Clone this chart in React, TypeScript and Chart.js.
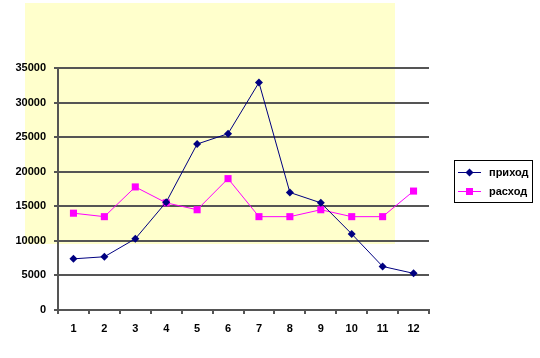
import React, { useEffect, useRef } from "react";
import { Chart, registerables } from "chart.js";

Chart.register(...registerables);

const categories = ["1", "2", "3", "4", "5", "6", "7", "8", "9", "10", "11", "12"];
const prihod = [7400, 7700, 10300, 15600, 24000, 25500, 32900, 17000, 15500, 11000, 6300, 5300];
const rashod = [14000, 13500, 17800, 15500, 14500, 19000, 13500, 13500, 14500, 13500, 13500, 17200];
const seriesNames = ["приход", "расход"];
const yTicks = { min: 0, max: 35000, step: 5000 };

const FONT = "'Liberation Sans', Arial, sans-serif";

const bgPlugin = {
  id: "bgRect",
  beforeDraw(chart: any) {
    const { ctx, chartArea } = chart;
    ctx.save();
    ctx.fillStyle = "#FFFFCC";
    const l = chartArea.left - 33;
    const t = chartArea.top - 65;
    const r = chartArea.left + 337;
    const b = chartArea.top + 176;
    ctx.fillRect(l, t, r - l, b - t);
    ctx.restore();
  },
};

const legendPlugin = {
  id: "boxLegend",
  afterDraw(chart: any) {
    const { ctx } = chart;
    const x = 454, y = 160, w = 78, h = 42;
    ctx.save();
    ctx.fillStyle = "#ffffff";
    ctx.fillRect(x, y, w, h);
    ctx.strokeStyle = "#000000";
    ctx.lineWidth = 1;
    ctx.strokeRect(x + 0.5, y + 0.5, w, h);
    chart.data.datasets.forEach((ds: any, i: number) => {
      const cy = y + 12 + i * 19;
      ctx.strokeStyle = ds.borderColor;
      ctx.lineWidth = 1;
      ctx.beginPath();
      ctx.moveTo(x + 4, cy + 0.5);
      ctx.lineTo(x + 27, cy + 0.5);
      ctx.stroke();
      ctx.fillStyle = ds.backgroundColor;
      if (ds.pointStyle === "rectRot") {
        const r = 4;
        const cx = x + 15.5;
        ctx.beginPath();
        ctx.moveTo(cx, cy - r + 0.5);
        ctx.lineTo(cx + r, cy + 0.5);
        ctx.lineTo(cx, cy + r + 0.5);
        ctx.lineTo(cx - r, cy + 0.5);
        ctx.closePath();
        ctx.fill();
      } else {
        ctx.fillRect(x + 12, cy - 3, 7, 7);
      }
      ctx.fillStyle = "#000000";
      ctx.font = "bold 11px " + FONT;
      ctx.textBaseline = "middle";
      ctx.textAlign = "left";
      ctx.fillText(ds.label, x + 35, cy + 1);
    });
    ctx.restore();
  },
};

export default function App() {
  const ref = useRef<HTMLCanvasElement>(null);
  useEffect(() => {
    document.body.style.margin = "0";
    const chart = new Chart(ref.current as HTMLCanvasElement, {
      type: "line",
      data: {
        labels: categories,
        datasets: [
          {
            label: seriesNames[0],
            data: prihod,
            borderColor: "#000080",
            backgroundColor: "#000080",
            borderWidth: 1,
            pointStyle: "rectRot",
            pointRadius: 4,
            pointBorderWidth: 0,
            tension: 0,
          },
          {
            label: seriesNames[1],
            data: rashod,
            borderColor: "#FF00FF",
            backgroundColor: "#FF00FF",
            borderWidth: 1,
            pointStyle: "rect",
            pointRadius: 5,
            pointBorderWidth: 0,
            tension: 0,
          },
        ],
      },
      options: {
        animation: false,
        responsive: false,
        events: [],
        layout: { padding: { top: 68, right: 111, left: 0, bottom: 0 } },
        plugins: { legend: { display: false }, tooltip: { enabled: false } },
        scales: {
          x: {
            offset: true,
            grid: {
              offset: true,
              drawOnChartArea: false,
              drawTicks: true,
              tickLength: 4,
              color: "#555555",
              lineWidth: 2,
            },
            border: { color: "#555555", width: 2 },
            ticks: {
              color: "#000000",
              font: { family: FONT, size: 11, weight: "bold" },
              padding: 8,
              maxRotation: 0,
            },
            afterFit: (s: any) => {
              s.height = 48;
            },
          },
          y: {
            min: yTicks.min,
            max: yTicks.max,
            grid: {
              color: "#555555",
              lineWidth: 2,
              tickLength: 4,
            },
            border: { color: "#555555", width: 2 },
            ticks: {
              stepSize: yTicks.step,
              color: "#000000",
              font: { family: FONT, size: 11, weight: "bold" },
              padding: 8,
              callback: (v: any) => String(v),
            },
            afterFit: (s: any) => {
              s.width = 58;
            },
          },
        },
      },
      plugins: [bgPlugin, legendPlugin],
    } as any);
    return () => chart.destroy();
  }, []);
  return <canvas ref={ref} width={540} height={358} style={{ display: "block" }} />;
}
